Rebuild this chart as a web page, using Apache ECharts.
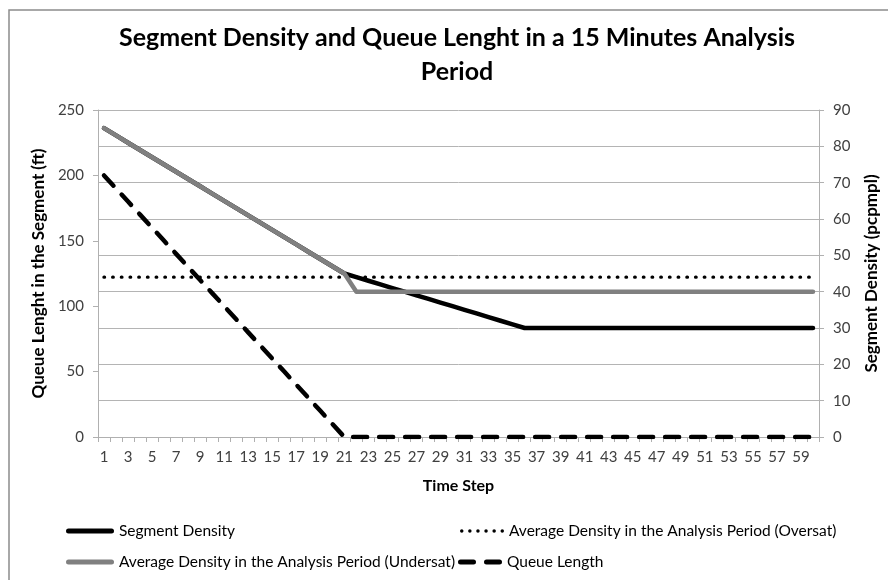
<!DOCTYPE html>
<html>
<head>
<meta charset="utf-8">
<script src="https://cdn.jsdelivr.net/npm/echarts@6/dist/echarts.min.js"></script>
<style>html,body{margin:0;padding:0;background:#fff}#c{width:888px;height:580px}</style>
</head>
<body>
<div id="c"></div>
<script>
var timeSteps = ['1','2','3','4','5','6','7','8','9','10','11','12','13','14','15','16','17','18','19','20',
  '21','22','23','24','25','26','27','28','29','30','31','32','33','34','35','36','37','38','39','40',
  '41','42','43','44','45','46','47','48','49','50','51','52','53','54','55','56','57','58','59','60'];

var segmentDensity = [85,83,81,79,77,75,73,71,69,67,65,63,61,59,57,55,53,51,49,47,45,
  44,43,42,41,40,39,38,37,36,35,34,33,32,31,30,
  30,30,30,30,30,30,30,30,30,30,30,30,30,30,30,30,30,30,30,30,30,30,30,30];
var avgOversat = [44,44,44,44,44,44,44,44,44,44,44,44,44,44,44,44,44,44,44,44,
  44,44,44,44,44,44,44,44,44,44,44,44,44,44,44,44,44,44,44,44,
  44,44,44,44,44,44,44,44,44,44,44,44,44,44,44,44,44,44,44,44];
var avgUndersat = [85,83,81,79,77,75,73,71,69,67,65,63,61,59,57,55,53,51,49,47,45,
  40,40,40,40,40,40,40,40,40,40,40,40,40,40,40,40,40,40,40,
  40,40,40,40,40,40,40,40,40,40,40,40,40,40,40,40,40,40,40,40];
var queueLength = [200,190,180,170,160,150,140,130,120,110,100,90,80,70,60,50,40,30,20,10,0,
  0,0,0,0,0,0,0,0,0,0,0,0,0,0,0,0,0,0,0,
  0,0,0,0,0,0,0,0,0,0,0,0,0,0,0,0,0,0,0,0];

var FONT = 'Lato';
var chart = echarts.init(document.getElementById('c'), null, {renderer: 'canvas'});

// legend icon shapes
var ICON_SOLID = 'path://M2.5,0H45.5A2.5,2.5,0,0,1,45.5,5H2.5A2.5,2.5,0,0,1,2.5,0Z';
var ICON_DASH = 'path://M2.5,0H15.5A2.5,2.5,0,0,1,15.5,5H2.5A2.5,2.5,0,0,1,2.5,0Z' +
  'M28.5,0H41.5A2.5,2.5,0,0,1,41.5,5H28.5A2.5,2.5,0,0,1,28.5,0Z';
function dotsPath() {
  var p = 'path://';
  var cs = [1.75, 9.85, 17.95, 26.05, 34.15, 42.25];
  for (var k = 0; k < cs.length; k++) {
    var c = cs[k];
    p += 'M' + (c - 1.75) + ',1.75A1.75,1.75,0,1,0,' + (c + 1.75) + ',1.75A1.75,1.75,0,1,0,' + (c - 1.75) + ',1.75Z';
  }
  return p;
}

function legendAt(name, icon, w, h, left, top) {
  return {
    data: [{name: name, icon: icon}], left: left, top: top, itemWidth: w, itemHeight: h,
    textStyle: {fontFamily: FONT, fontSize: 15.5, color: '#000'}, padding: 0
  };
}

chart.setOption({
  animation: false,
  backgroundColor: '#fff',
  graphic: [{
    type: 'rect', shape: {x: 9, y: 10, width: 900, height: 600},
    style: {fill: 'none', stroke: '#8c8c8c', lineWidth: 1.5}, silent: true, z: -1
  }],
  title: {
    text: 'Segment Density and Queue Lenght in a 15 Minutes Analysis\nPeriod',
    left: 457, top: 21, textAlign: 'center', padding: 0,
    textStyle: {fontFamily: FONT, fontSize: 25, fontWeight: 'bold', color: '#000', lineHeight: 34}
  },
  legend: [
    legendAt('Segment Density', ICON_SOLID, 48, 5, 66, 523),
    legendAt('Average Density in the Analysis Period (Oversat)', dotsPath(), 44, 3.5, 460, 523),
    legendAt('Average Density in the Analysis Period (Undersat)', ICON_SOLID, 48, 5, 66, 554),
    legendAt('Queue Length', ICON_DASH, 44, 5, 458, 554)
  ],
  grid: {left: 98, right: 68, top: 110, bottom: 143, containLabel: false},
  xAxis: {
    type: 'category', data: timeSteps, boundaryGap: true,
    name: 'Time Step', nameLocation: 'middle', nameGap: 41,
    nameTextStyle: {fontFamily: FONT, fontSize: 16, fontWeight: 'bold', color: '#000'},
    axisLine: {lineStyle: {color: '#b0b0b0', width: 1}},
    axisTick: {show: true, interval: 0, length: 5, lineStyle: {color: '#b0b0b0'}},
    axisLabel: {interval: 1, fontFamily: FONT, fontSize: 15, color: '#404040', margin: 13}
  },
  yAxis: [{
    type: 'value', min: 0, max: 250, interval: 50, position: 'left',
    name: 'Queue Lenght in the Segment (ft)', nameLocation: 'middle', nameGap: 48, nameRotate: 90,
    nameTextStyle: {fontFamily: FONT, fontSize: 17, fontWeight: 'bold', color: '#000'},
    axisLine: {show: true, lineStyle: {color: '#b0b0b0'}},
    axisTick: {show: true, length: 5, lineStyle: {color: '#b0b0b0'}},
    splitLine: {show: false},
    axisLabel: {fontFamily: FONT, fontSize: 15, color: '#404040', margin: 14}
  }, {
    type: 'value', min: 0, max: 90, interval: 10, position: 'right',
    name: 'Segment Density (pcpmpl)', nameLocation: 'middle', nameGap: 44, nameRotate: 90,
    nameTextStyle: {fontFamily: FONT, fontSize: 17, fontWeight: 'bold', color: '#000'},
    axisLine: {show: true, lineStyle: {color: '#b0b0b0'}},
    axisTick: {show: true, length: 5, lineStyle: {color: '#b0b0b0'}},
    splitLine: {show: true, lineStyle: {color: '#b4b4b4', width: 1}},
    axisLabel: {fontFamily: FONT, fontSize: 15, color: '#404040', margin: 14}
  }],
  series: [{
    name: 'Segment Density', type: 'line', yAxisIndex: 1, data: segmentDensity,
    showSymbol: false, symbol: 'none', z: 2,
    lineStyle: {color: '#000', width: 4.5, cap: 'round', join: 'round'},
    itemStyle: {color: '#000'}
  }, {
    name: 'Average Density in the Analysis Period (Oversat)', type: 'line', yAxisIndex: 1, data: avgOversat,
    showSymbol: false, symbol: 'none', z: 3,
    lineStyle: {color: '#000', width: 3.4, type: [0.5, 8.2], cap: 'round'},
    itemStyle: {color: '#000'}
  }, {
    name: 'Average Density in the Analysis Period (Undersat)', type: 'line', yAxisIndex: 1, data: avgUndersat,
    showSymbol: false, symbol: 'none', z: 4,
    lineStyle: {color: '#808080', width: 4.5, cap: 'round', join: 'round'},
    itemStyle: {color: '#808080'}
  }, {
    name: 'Queue Length', type: 'line', yAxisIndex: 0, data: queueLength,
    showSymbol: false, symbol: 'none', z: 5,
    lineStyle: {color: '#000', width: 4.5, type: [14, 12], cap: 'round'},
    itemStyle: {color: '#000'}
  }]
});
</script>
</body>
</html>
